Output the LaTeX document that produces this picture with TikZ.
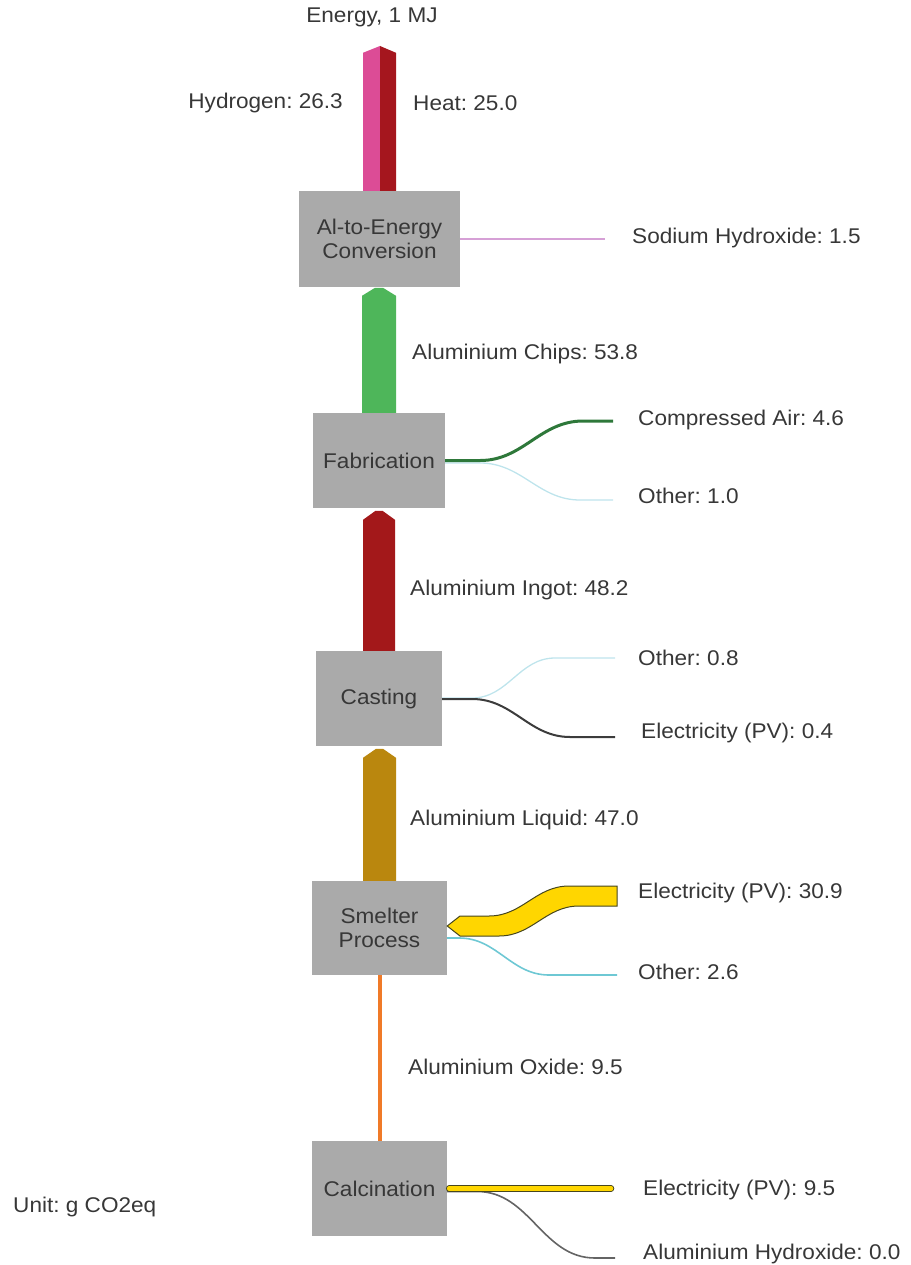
\documentclass[tikz,border=0pt]{standalone}
\usepackage{fontspec}
\setmainfont{Liberation Sans}[FakeStretch=1.06]
\usetikzlibrary{calc}
\frenchspacing

\definecolor{boxgray}{RGB}{170,170,170}
\definecolor{txt}{RGB}{55,55,55}
\definecolor{hydro}{RGB}{220,76,150}
\definecolor{heat}{RGB}{165,22,30}
\definecolor{chips}{RGB}{78,182,90}
\definecolor{ingot}{RGB}{163,24,26}
\definecolor{liquid}{RGB}{186,135,14}
\definecolor{oxide}{RGB}{240,122,40}
\definecolor{naoh}{RGB}{214,160,214}
\definecolor{air}{RGB}{46,120,58}
\definecolor{other}{RGB}{190,228,236}
\definecolor{otherb}{RGB}{110,200,212}
\definecolor{pv}{RGB}{255,214,0}
\definecolor{pvline}{RGB}{70,70,30}
\definecolor{dark}{RGB}{60,60,60}
\definecolor{hydrox}{RGB}{100,100,100}

\tikzset{
  procbox/.style={fill=boxgray, text=txt, align=center, inner sep=0pt,
    font=\fontsize{21.3}{23.5}\selectfont},
  lbl/.style={text=txt, inner sep=0pt, font=\fontsize{21.3}{24}\selectfont},
  thinflow/.style={line width=#1, line cap=butt},
}

\begin{document}
\begin{tikzpicture}[x=1pt, y=-1pt]
\useasboundingbox (0,0) rectangle (910,1265);

% process boxes
\node[procbox, minimum width=161pt, minimum height=96pt] (conv)  at (379.5,239)    {Al-to-Energy\\Conversion};
\node[procbox, minimum width=132pt, minimum height=95pt] (fab)   at (379,460.5)    {Fabrication};
\node[procbox, minimum width=126pt, minimum height=95pt] (cast)  at (379,698.5)    {Casting};
\node[procbox, minimum width=135pt, minimum height=94pt] (smelt) at (379.5,928)    {Smelter\\Process};
\node[procbox, minimum width=135pt, minimum height=95pt] (calc)  at (379.5,1188.5) {Calcination};

% labels
\node[lbl, anchor=south] (energy) at (372,27) {Energy, 1 MJ};
\node[lbl, anchor=east] (hyd) at (343,103) {Hydrogen: 26.3};
\node[lbl, anchor=west] (heatl) at (413,103) {Heat: 25.0};
\node[lbl, anchor=west] (naohl) at (632,238) {Sodium Hydroxide: 1.5};
\node[lbl, anchor=west] (chipsl) at (412,354) {Aluminium Chips: 53.8};
\node[lbl, anchor=west] (airl) at (638,420) {Compressed Air: 4.6};
\node[lbl, anchor=west] (oth1) at (638,496) {Other: 1.0};
\node[lbl, anchor=west] (ingotl) at (410,590) {Aluminium Ingot: 48.2};
\node[lbl, anchor=west] (oth2) at (638,658) {Other: 0.8};
\node[lbl, anchor=west] (pv1) at (641,733) {Electricity (PV): 0.4};
\node[lbl, anchor=west] (liquidl) at (410,820) {Aluminium Liquid: 47.0};
\node[lbl, anchor=west] (pv2) at (638,893) {Electricity (PV): 30.9};
\node[lbl, anchor=west] (oth3) at (638,972) {Other: 2.6};
\node[lbl, anchor=west] (oxidel) at (408,1067) {Aluminium Oxide: 9.5};
\node[lbl, anchor=west] (unit) at (13,1207) {Unit: g CO2eq};
\node[lbl, anchor=west] (pv3) at (643,1190) {Electricity (PV): 9.5};
\node[lbl, anchor=west] (ahyd) at (643,1254) {Aluminium Hydroxide: 0.0};

% free ends of the side flows
\coordinate (naohEnd) at (605,239);
\coordinate (airEnd)  at (613,421);
\coordinate (oth1End) at (613,500);
\coordinate (oth2End) at (615,658);
\coordinate (pv1End)  at (615,737);
\coordinate (oth3End) at (617,975);
\coordinate (pv3End)  at (613,1188.5);
\coordinate (ahydEnd) at (615,1258);
\coordinate (topTip)  at (380,46);

% energy output: hydrogen and heat
\fill[hydro] ($(conv.north)+(-16.5,0)$) -- ++(0,-138) -- (topTip) -- ($(conv.north)+(0.5,0)$) -- cycle;
\fill[heat]  ($(conv.north)+(0.5,0)$) -- (topTip) -- ($(conv.north)+(16.5,-138)$) -- ($(conv.north)+(16.5,0)$) -- cycle;

% main chain between the processes
\fill[chips]  ($(fab.north)+(-17,0)$) -- ++(0,-117) -- ++(13,-8) -- ++(8,0) -- ++(13,8) -- ++(0,117) -- cycle;
\fill[ingot]  ($(cast.north)+(-16,0)$) -- ++(0,-131) -- ++(12.5,-9) -- ++(7,0) -- ++(12.5,9) -- ++(0,131) -- cycle;
\fill[liquid] ($(smelt.north)+(-16.5,0)$) -- ++(0,-123) -- ++(13,-9) -- ++(7,0) -- ++(13,9) -- ++(0,123) -- cycle;
\draw[oxide, line width=4pt] (calc.north) -- (smelt.south);

% conversion inputs
\draw[naoh, thinflow=1.5pt] (conv.east) -- (naohEnd);

% fabrication inputs
\draw[other, thinflow=1.3pt] ($(fab.east)+(0,2.5)$) -- ++(35,0) to[out=0,in=180] ($(oth1End)+(-33,0)$) -- (oth1End);
\draw[air, thinflow=3pt] (fab.east) -- ++(35,0) to[out=0,in=180] ($(airEnd)+(-30,0)$) -- (airEnd);

% casting inputs
\draw[other, thinflow=1.3pt] ($(cast.east)+(0,-0.5)$) -- ++(30,0) to[out=0,in=180] ($(oth2End)+(-60,0)$) -- (oth2End);
\draw[dark, thinflow=2pt] ($(cast.east)+(0,0.5)$) -- ++(30,0) to[out=0,in=180] ($(pv1End)+(-45,0)$) -- (pv1End);

% smelter inputs
\draw[otherb, thinflow=1.6pt] ($(smelt.east)+(0,10)$) -- ++(12,0) to[out=0,in=180] ($(oth3End)+(-68,0)$) -- (oth3End);
\filldraw[fill=pv, draw=pvline, line width=1pt]
  (617,886) -- (569,886) to[out=180,in=0] (489,916) -- (460,916) -- (smelt.east |- 0,926)
  -- (460,936) -- (499,936) to[out=0,in=180] (579,906) -- (617,906) -- cycle;

% calcination inputs
\draw[hydrox, thinflow=1.6pt] ($(calc.east)+(0,3)$) -- ++(30,0) to[out=0,in=180] ($(ahydEnd)+(-20,0)$) -- (ahydEnd);
\draw[pvline, line width=6.5pt, line cap=round] ($(calc.east)+(2,0)$) -- ($(pv3End)+(-2,0)$);
\draw[pv, line width=4.5pt, line cap=round] ($(calc.east)+(2,0)$) -- ($(pv3End)+(-2,0)$);
\end{tikzpicture}
\end{document}
